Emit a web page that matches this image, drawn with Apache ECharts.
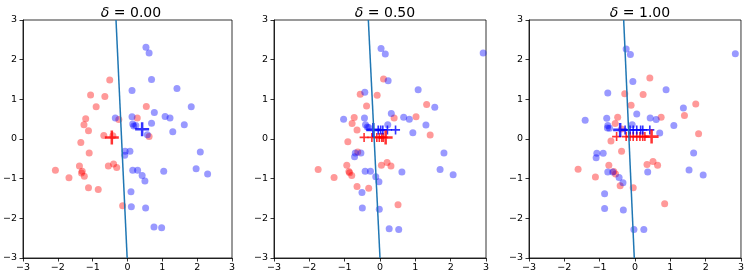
<!DOCTYPE html>
<html>
<head>
<meta charset="utf-8">
<script src="https://cdn.jsdelivr.net/npm/echarts@6/dist/echarts.min.js"></script>
<style>
  html, body { margin: 0; padding: 0; background: #fff; }
  #chart { width: 747px; height: 279px; }
</style>
</head>
<body>
<div id="chart"></div>
<script>
// panel titles
const deltas = ['0.00', '0.50', '1.00'];
const ticks = [-3, -2, -1, 0, 1, 2, 3];

// delta = 0.00
const red0 = [[-0.51,1.49],[-1.06,1.11],[-0.65,1.07],[-0.9,0.81],[0.54,0.82],[-1.2,0.51],[0.28,0.53],[-0.25,0.49],
  [-1.25,0.36],[-1.12,0.21],[-0.68,0.09],[-0.42,0.08],[0.62,0.06],[-1.34,-0.09],[-1.1,-0.35],[-1.38,-0.68],[-2.07,-0.79],
  [-1.3,-0.81],[-1.32,-0.86],[-1.24,-0.94],[-1.68,-0.98],[-1.12,-1.23],[-0.84,-1.27],[-0.55,-0.68],[-0.4,-0.63],
  [-0.31,-0.72],[-0.14,-1.68]];
const blue0 = [[0.53,2.31],[0.62,2.17],[0.69,1.5],[1.42,1.27],[0.13,1.22],[1.83,0.81],[0.77,0.67],[-0.35,0.53],
  [0.13,0.56],[1.08,0.57],[1.22,0.53],[0.69,0.4],[1.63,0.36],[0.15,0.38],[0.18,0.33],[0.24,0.34],[1.3,0.18],[0.57,0.11],
  [-0.07,-0.31],[0.07,-0.31],[-0.08,-0.41],[0.15,-0.79],[0.29,-0.79],[0.42,-0.92],[0.5,-1.06],[1.04,-0.81],[1.97,-0.75],
  [2.09,-0.33],[2.3,-0.88],[0.1,-1.33],[0.11,-1.71],[0.52,-1.74],[0.76,-2.22],[0.98,-2.24]];
const redSmall0 = [];
const blueSmall0 = [];
const redBig0 = [[-0.45,0.04]];
const blueBig0 = [[0.42,0.245]];
const line0 = [[-0.33,3],[-0.01,-3]];

// delta = 0.50
const red1 = [[0.1,1.51],[-0.56,1.13],[-0.08,1.1],[-0.38,0.83],[1.32,0.87],[-0.73,0.54],[1.02,0.56],[0.4,0.53],
  [-0.79,0.39],[-0.65,0.23],[1.42,0.1],[-0.91,-0.07],[-0.63,-0.33],[-0.94,-0.66],[-1.75,-0.77],[-1.3,-0.97],
  [-0.88,-0.82],[-0.86,-0.85],[-0.8,-0.92],[-0.65,-1.2],[-0.32,-1.24],[0.04,-0.66],[0.2,-0.59],[0.31,-0.68],[0.51,-1.66]];
const blue1 = [[0.03,2.28],[0.15,2.14],[2.92,2.17],[0.23,1.47],[1.08,1.24],[-0.43,1.18],[1.55,0.8],[0.32,0.64],
  [-1.03,0.5],[-0.44,0.53],[0.67,0.55],[0.83,0.5],[1.3,0.35],[0.22,0.36],[-0.41,0.36],[-0.36,0.3],[-0.32,0.29],
  [0.93,0.16],[-0.7,-0.35],[-0.54,-0.35],[-0.72,-0.45],[-0.42,-0.81],[-0.27,-0.81],[-0.12,-0.95],[-0.03,-1.08],
  [0.62,-0.83],[1.7,-0.77],[1.81,-0.35],[2.07,-0.9],[-0.51,-1.35],[-0.5,-1.74],[-0.02,-1.77],[0.26,-2.26],[0.53,-2.28]];
const redSmall1 = [[-0.45,0.04],[-0.23,0.04],[-0.09,0.04],[-0.02,0.04],[0.05,0.04],[0.09,0.04]];
const blueSmall1 = [[-0.05,0.23],[0.02,0.23],[0.08,0.23],[0.21,0.23],[0.44,0.23]];
const redBig1 = [[0.16,0.04]];
const blueBig1 = [[-0.19,0.23]];
const line1 = [[-0.33,3],[0.0,-3]];

// delta = 1.00
const red2 = [[0.42,1.54],[-0.29,1.14],[0.23,1.12],[-0.11,0.85],[1.72,0.88],[-0.49,0.55],[0.74,0.55],[1.4,0.59],
  [-0.56,0.39],[-0.38,0.25],[1.8,0.13],[-0.68,-0.05],[-0.38,-0.31],[-0.74,-0.66],[-1.61,-0.76],[-1.12,-0.96],
  [-0.6,-0.82],[-0.55,-0.88],[-0.42,-1.18],[-0.05,-1.23],[0.34,-0.64],[0.51,-0.57],[0.64,-0.66],[0.84,-1.63]];
const blue2 = [[-0.25,2.27],[-0.13,2.13],[2.84,2.15],[-0.06,1.45],[0.88,1.24],[-0.77,1.16],[1.37,0.78],[0.05,0.63],
  [-1.41,0.47],[-0.8,0.52],[0.43,0.53],[0.6,0.49],[1.1,0.34],[-0.77,0.34],[-0.78,0.28],[-0.72,0.27],[-0.08,0.36],
  [0.7,0.15],[-1.08,-0.36],[-0.9,-0.36],[-1.1,-0.47],[-0.77,-0.83],[-0.63,-0.83],[-0.45,-0.97],[-0.34,-1.1],
  [-0.86,-1.38],[-0.86,-1.75],[-0.33,-1.79],[-0.03,-2.28],[0.25,-2.28],[0.36,-0.83],[1.53,-0.78],[1.66,-0.35],[1.93,-0.91]];
const redSmall2 = [[-0.52,0.06],[-0.25,0.06],[-0.14,0.06],[-0.05,0.06],[0.05,0.06],[0.14,0.06],[0.22,0.06],[0.28,0.06]];
const blueSmall2 = [[-0.28,0.23],[-0.14,0.23],[-0.05,0.23],[0.05,0.23],[0.16,0.23],[0.22,0.23],[0.42,0.23]];
const redBig2 = [[0.47,0.06]];
const blueBig2 = [[-0.42,0.23]];
const line2 = [[-0.32,3],[-0.02,-3]];

const reds = [red0, red1, red2];
const blues = [blue0, blue1, blue2];
const redSmalls = [redSmall0, redSmall1, redSmall2];
const blueSmalls = [blueSmall0, blueSmall1, blueSmall2];
const redBigs = [redBig0, redBig1, redBig2];
const blueBigs = [blueBig0, blueBig1, blueBig2];
const lines = [line0, line1, line2];

// '+' marker as a filled shape (the stroke is baked into the path)
const plus = 'path://M4.1,0h1.8v10h-1.8z M0,4.1h10v1.8h-10z';
const lefts = [20, 274, 529];
const W = 212, H = 238, TOP = 20;
const font = 'DejaVu Sans';
const fmt = v => (v < 0 ? '\u2212' + (-v) : String(v));

const grid = [], xAxis = [], yAxis = [], title = [], series = [];
for (let i = 0; i < 3; i++) {
  grid.push({ left: lefts[i], top: TOP, width: W, height: H, show: true,
    borderColor: '#000', borderWidth: 0.8, backgroundColor: 'transparent' });
  const axisCommon = {
    gridIndex: i, type: 'value', min: -3, max: 3, interval: 1,
    splitLine: { show: false },
    axisLine: { show: true, onZero: false, lineStyle: { color: '#000', width: 0.8 } },
    axisTick: { show: true, inside: false, length: 3.5, lineStyle: { color: '#000', width: 0.8 } },
    axisLabel: { fontFamily: font, fontSize: 9.5, color: '#000', formatter: fmt, showMinLabel: true, showMaxLabel: true }
  };
  xAxis.push(Object.assign({}, axisCommon, { axisLabel: Object.assign({}, axisCommon.axisLabel, { margin: 5 }) }));
  yAxis.push(Object.assign({}, axisCommon, { axisLabel: Object.assign({}, axisCommon.axisLabel, { margin: 6 }) }));
  title.push({
    text: '{i|\u03B4} = ' + deltas[i],
    left: lefts[i] + W / 2, top: 1, textAlign: 'center',
    textStyle: { fontFamily: font, fontSize: 14, fontWeight: 'normal', color: '#000',
      rich: { i: { fontFamily: font, fontSize: 14, fontStyle: 'italic', color: '#000' } } }
  });
  series.push({ type: 'scatter', xAxisIndex: i, yAxisIndex: i, data: reds[i], symbolSize: 7,
    itemStyle: { color: 'rgba(255,0,0,0.5)' } });
  series.push({ type: 'scatter', xAxisIndex: i, yAxisIndex: i, data: blues[i], symbolSize: 7,
    itemStyle: { color: 'rgba(0,0,255,0.5)' } });
  series.push({ type: 'scatter', xAxisIndex: i, yAxisIndex: i, data: redSmalls[i], symbol: plus, symbolSize: 9,
    itemStyle: { color: '#ff0000' } });
  series.push({ type: 'scatter', xAxisIndex: i, yAxisIndex: i, data: blueSmalls[i], symbol: plus, symbolSize: 9,
    itemStyle: { color: '#0000ff' } });
  series.push({ type: 'scatter', xAxisIndex: i, yAxisIndex: i, data: redBigs[i], symbol: plus, symbolSize: 14,
    itemStyle: { color: '#ff0000' } });
  series.push({ type: 'scatter', xAxisIndex: i, yAxisIndex: i, data: blueBigs[i], symbol: plus, symbolSize: 14,
    itemStyle: { color: '#0000ff' } });
  series.push({ type: 'line', xAxisIndex: i, yAxisIndex: i, data: lines[i], showSymbol: false, symbol: 'none',
    lineStyle: { color: '#1f77b4', width: 1.5 } });
}

const chart = echarts.init(document.getElementById('chart'), null, { renderer: 'canvas' });
chart.setOption({ animation: false, title, grid, xAxis, yAxis, series });
</script>
</body>
</html>
